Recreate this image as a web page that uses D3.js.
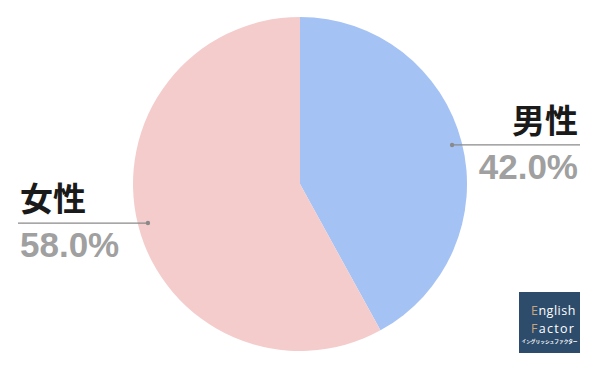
<!DOCTYPE html>
<html>
<head>
<meta charset="utf-8">
<script src="https://cdn.jsdelivr.net/npm/d3@7"></script>
<style>
body { margin: 0; background: #fff; }
svg { display: block; }
</style>
</head>
<body>
<div id="chart"></div>
<script>
// données du graphique
var categories = ["男性", "女性"];
var values = [42.0, 58.0];
var colors = ["#a4c2f4", "#f4cccc"];
var pctLabels = ["42.0%", "58.0%"];

var width = 600
var height = 371
var cx = 300
var cy = 184
var radius = 167

var svg = d3.select("#chart").append("svg")
	.attr("width", width)
	.attr("height", height);

var data = categories.map(function (c, i) {
	return {name: c, value: values[i], color: colors[i], pct: pctLabels[i]};
});

var pie = d3.pie()
	.sort(null)
	.value(d => d.value);

var arcGen = d3.arc()
	.innerRadius(0)
	.outerRadius(radius);

var slices = pie(data);

var g = svg.append("g")
	.attr("transform", "translate(" + cx + "," + cy + ")");

g.selectAll("path")
	.data(slices)
	.enter()
	.append("path")
	.attr("d", arcGen)
	.attr("fill", d => d.data.color);

// étiquettes avec trait
var labels = svg.append("g");

slices.forEach(function (d) {
	var mid = (d.startAngle + d.endAngle) / 2;
	var p = d3.pointRadial(mid, 157);
	var x0 = cx + p[0], y0 = cy + p[1];
	var right = p[0] > 0;
	var xEnd = right ? 580 : 18;
	var xText = right ? 578 : 20;
	var anchor = right ? "end" : "start";

	labels.append("line")
		.attr("x1", x0).attr("y1", y0)
		.attr("x2", xEnd).attr("y2", y0)
		.attr("stroke", "#8a8a8a")
		.attr("stroke-width", 1.2);

	labels.append("circle")
		.attr("cx", x0).attr("cy", y0)
		.attr("r", 2.2)
		.attr("fill", "#8a8a8a");

	labels.append("text")
		.attr("x", xText)
		.attr("y", y0 - 12)
		.attr("text-anchor", anchor)
		.attr("font-family", "'Noto Sans CJK JP', sans-serif")
		.attr("font-weight", "bold")
		.attr("font-size", "33px")
		.attr("fill", "#1a1a1a")
		.text(d.data.name);

	labels.append("text")
		.attr("x", xText)
		.attr("y", y0 + 34)
		.attr("text-anchor", anchor)
		.attr("font-family", "'Liberation Sans', Arial, sans-serif")
		.attr("font-weight", "bold")
		.attr("font-size", "35px")
		.attr("fill", "#a0a0a0")
		.text(d.data.pct);
});

// logo
var logo = svg.append("g").attr("transform", "translate(519,292)");
logo.append("rect")
	.attr("width", 61).attr("height", 61)
	.attr("fill", "#2d4c6c");

var t1 = logo.append("text")
	.attr("x", 12).attr("y", 23)
	.attr("font-family", "'Open Sans', sans-serif")
	.attr("font-size", "12.5px")
	.attr("letter-spacing", "0.5px")
	.attr("fill", "#ffffff");
t1.append("tspan").attr("fill", "#c9a57a").text("E");
t1.append("tspan").text("nglish");

var t2 = logo.append("text")
	.attr("x", 12).attr("y", 41)
	.attr("font-family", "'Open Sans', sans-serif")
	.attr("font-size", "12.5px")
	.attr("letter-spacing", "1.3px")
	.attr("fill", "#ffffff");
t2.append("tspan").attr("fill", "#c9a57a").text("F");
t2.append("tspan").text("actor");

logo.append("text")
	.attr("x", 30.5).attr("y", 51)
	.attr("text-anchor", "middle")
	.attr("font-family", "'Noto Sans CJK JP', sans-serif")
	.attr("font-size", "4.7px")
	.attr("font-weight", "bold")
	.attr("fill", "#ffffff")
	.text("イングリッシュファクター");
</script>
</body>
</html>
